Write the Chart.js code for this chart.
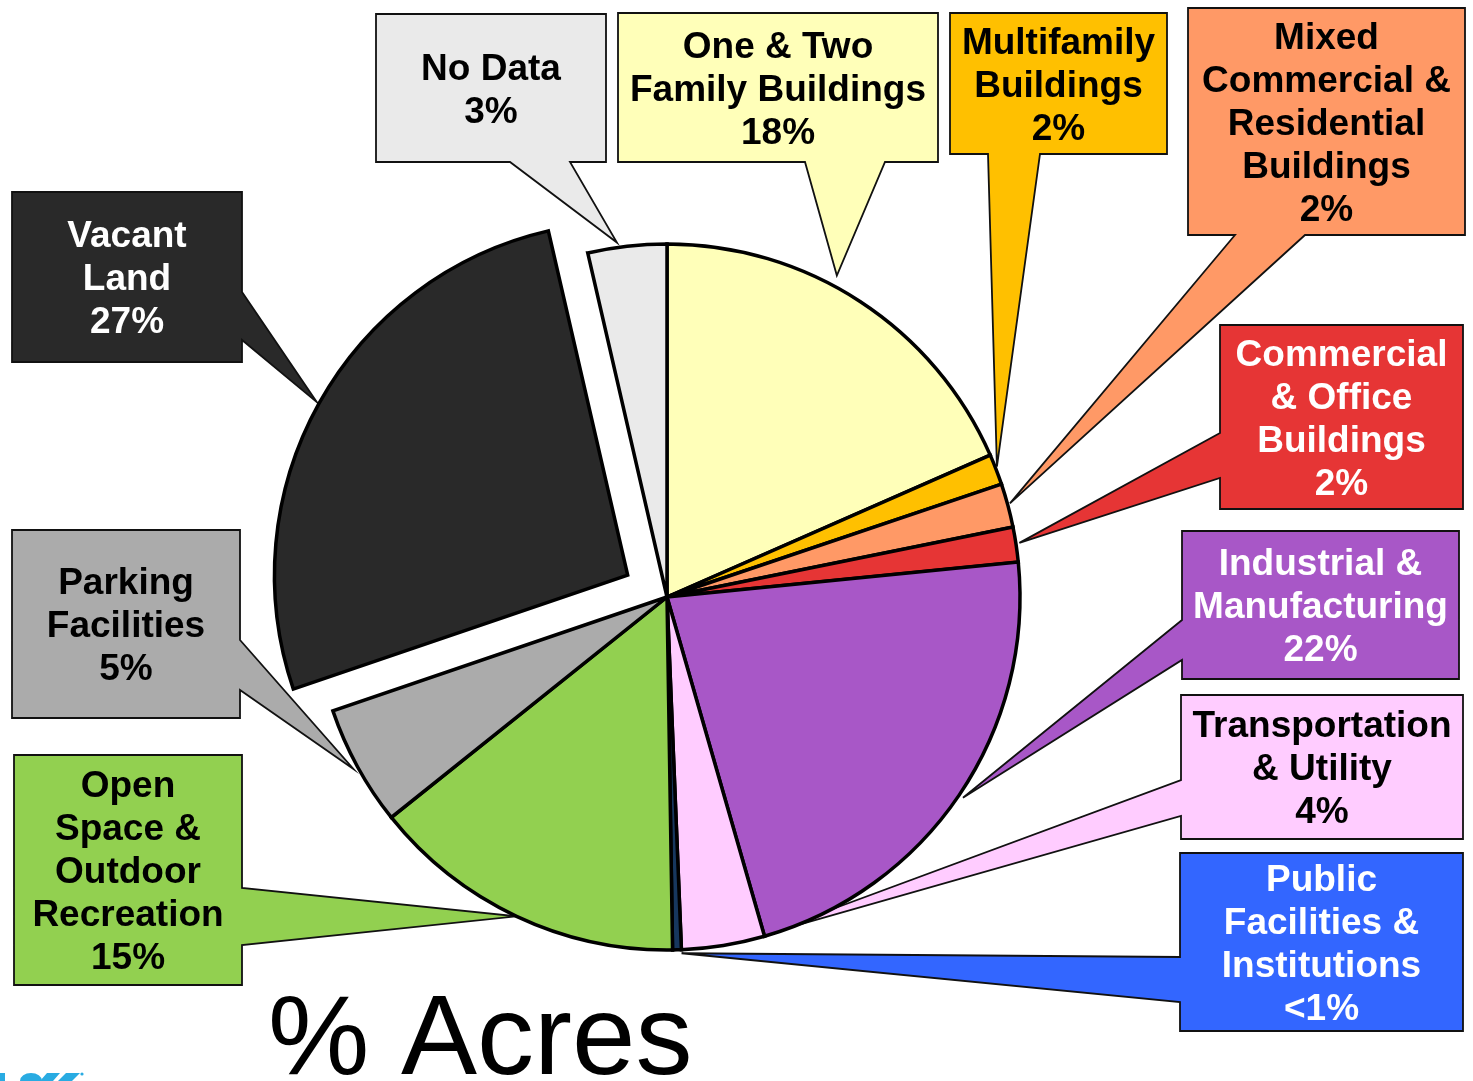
<!DOCTYPE html>
<html>
<head>
<meta charset="utf-8">
<title>% Acres</title>
<script src="https://cdn.jsdelivr.net/npm/chart.js@4/dist/chart.umd.min.js"></script>
<style>
    html, body { margin: 0; padding: 0; background: #fff; }
    #acres-pie { display: block; }
</style>
</head>
<body>
<canvas id="acres-pie" width="1473" height="1081"></canvas>
<script>
// ─── Data ─────────────────────────────────────────────

const CATEGORIES = [
    'One & Two Family Buildings',
    'Multifamily Buildings',
    'Mixed Commercial & Residential Buildings',
    'Commercial & Office Buildings',
    'Industrial & Manufacturing',
    'Transportation & Utility',
    'Public Facilities & Institutions',
    'Open Space & Outdoor Recreation',
    'Parking Facilities',
    'Vacant Land',
    'No Data',
];

// share of acres, %
const ACRES_PCT = [18.4, 1.4, 2.0, 1.6, 22.1, 3.8, 0.4, 14.5, 5.5, 26.6, 3.6];

// text shown in the callouts
const PCT_LABELS = ['18%', '2%', '2%', '2%', '22%', '4%', '<1%', '15%', '5%', '27%', '3%'];

const LABEL_LINES = [
    ['One & Two', 'Family Buildings'],
    ['Multifamily', 'Buildings'],
    ['Mixed', 'Commercial &', 'Residential', 'Buildings'],
    ['Commercial', '& Office', 'Buildings'],
    ['Industrial &', 'Manufacturing'],
    ['Transportation', '& Utility'],
    ['Public', 'Facilities &', 'Institutions'],
    ['Open', 'Space &', 'Outdoor', 'Recreation'],
    ['Parking', 'Facilities'],
    ['Vacant', 'Land'],
    ['No Data'],
];

const TITLE = '% Acres';

// ─── Styles ───────────────────────────────────────────

const SLICE_COLORS = [
    '#FFFFB9', '#FFC000', '#FF9966', '#E63535', '#A857C7', '#FFCCFF',
    '#17375E', '#92D050', '#ABABAB', '#292929', '#EAEAEA',
];
const BOX_COLORS = [
    '#FFFFB9', '#FFC000', '#FF9966', '#E63535', '#A857C7', '#FFCCFF',
    '#3366FF', '#92D050', '#ABABAB', '#292929', '#EAEAEA',
];
const TEXT_COLORS = [
    '#000', '#000', '#000', '#fff', '#fff', '#000',
    '#fff', '#000', '#000', '#fff', '#000',
];

// exploded slice (Vacant Land); Chart.js moves an arc by offset / 4
const SLICE_OFFSETS = [0, 0, 0, 0, 0, 0, 0, 0, 0, 180, 0];

// callout boxes: rect, which side the pointer leaves from, pointer base,
// and where along the slice (0..1) / how far out (x radius) the tip lands
const CALLOUTS = [
    { x: 618,  y: 13,  w: 320, h: 149, side: 'bottom', a: 805,  b: 885,  at: 0.42, rf: 1.03 },
    { x: 950,  y: 13,  w: 217, h: 141, side: 'bottom', a: 988,  b: 1040, at: 0.42, rf: 1.005 },
    { x: 1188, y: 8,   w: 277, h: 227, side: 'bottom', a: 1235, b: 1305, at: 0.47, rf: 1.007 },
    { x: 1220, y: 325, w: 243, h: 184, side: 'left',   a: 433,  b: 478,  at: 0.47, rf: 1.01 },
    { x: 1182, y: 531, w: 277, h: 148, side: 'left',   a: 620,  b: 660,  at: 0.5,  rf: 1.013 },
    { x: 1181, y: 695, w: 282, h: 144, side: 'left',   a: 780,  b: 816,  at: 0.02, rf: 0.995 },
    { x: 1180, y: 853, w: 283, h: 178, side: 'left',   a: 957,  b: 1002, at: 0.0,  rf: 1.01 },
    { x: 14,   y: 755, w: 228, h: 230, side: 'right',  a: 888,  b: 945,  at: 0.5,  rf: 1.0 },
    { x: 12,   y: 530, w: 228, h: 188, side: 'right',  a: 640,  b: 690,  at: 0.5,  rf: 1.013 },
    { x: 12,   y: 192, w: 230, h: 170, side: 'right',  a: 292,  b: 340,  at: 0.5,  rf: 1.008 },
    { x: 376,  y: 14,  w: 230, h: 148, side: 'bottom', a: 510,  b: 570,  at: 0.38, rf: 1.014 },
];

const FONT_FAMILY = '"Liberation Sans", Arial, Helvetica, sans-serif';
const LABEL_FONT  = `bold 37px ${FONT_FAMILY}`;
const LINE_HEIGHT = 43;

// ─── Helpers ──────────────────────────────────────────

function _calloutPath(ctx, box, tip) {
    const l = box.x, t = box.y, r = box.x + box.w, btm = box.y + box.h;
    ctx.beginPath();
    ctx.moveTo(l, t);
    ctx.lineTo(r, t);
    if (box.side === 'right') {
        ctx.lineTo(r, box.a);
        ctx.lineTo(tip.x, tip.y);
        ctx.lineTo(r, box.b);
    }
    ctx.lineTo(r, btm);
    if (box.side === 'bottom') {
        ctx.lineTo(box.b, btm);
        ctx.lineTo(tip.x, tip.y);
        ctx.lineTo(box.a, btm);
    }
    ctx.lineTo(l, btm);
    if (box.side === 'left') {
        ctx.lineTo(l, box.b);
        ctx.lineTo(tip.x, tip.y);
        ctx.lineTo(l, box.a);
    }
    ctx.closePath();
}

function _tipFor(arc, box) {
    const p = arc.getProps(['x', 'y', 'startAngle', 'endAngle', 'outerRadius'], true);
    const mid = (p.startAngle + p.endAngle) / 2;
    const shift = (arc.options.offset || 0) / 4;
    const ang = p.startAngle + (p.endAngle - p.startAngle) * box.at;
    const rr = p.outerRadius * box.rf;
    return {
        x: p.x + Math.cos(mid) * shift + Math.cos(ang) * rr,
        y: p.y + Math.sin(mid) * shift + Math.sin(ang) * rr,
    };
}

// ─── Plugins ──────────────────────────────────────────

const calloutPlugin = {
    id: 'callouts',
    beforeDatasetsDraw(chart) {
        const ctx = chart.ctx;
        const arcs = chart.getDatasetMeta(0).data;
        CALLOUTS.forEach((box, i) => {
            const tip = _tipFor(arcs[i], box);
            ctx.save();
            _calloutPath(ctx, box, tip);
            ctx.fillStyle = BOX_COLORS[i];
            ctx.fill();
            ctx.lineWidth = 1.8;
            ctx.lineJoin = 'miter';
            ctx.strokeStyle = '#111';
            ctx.stroke();

            const lines = [...LABEL_LINES[i], PCT_LABELS[i]];
            const cx = box.x + box.w / 2;
            const cy = box.y + box.h / 2;
            const top = cy - (lines.length - 1) * LINE_HEIGHT / 2;
            ctx.font = LABEL_FONT;
            ctx.fillStyle = TEXT_COLORS[i];
            ctx.textAlign = 'center';
            ctx.textBaseline = 'middle';
            lines.forEach((txt, k) => ctx.fillText(txt, cx, top + k * LINE_HEIGHT + 3));
            ctx.restore();
        });
    },
    afterDraw(chart) {
        const ctx = chart.ctx;
        ctx.save();
        ctx.font = `114px ${FONT_FAMILY}`;
        ctx.fillStyle = '#000';
        ctx.textAlign = 'left';
        ctx.textBaseline = 'alphabetic';
        ctx.fillText(TITLE, 268, 1074);

        // clipped logo peeking in at the bottom-left corner
        ctx.fillStyle = '#29ABE2';
        ctx.fillRect(0, 1073, 5, 8);
        ctx.beginPath();
        ctx.ellipse(31, 1081, 11, 8, 0, Math.PI, 0);
        ctx.fill();
        ctx.beginPath();
        ctx.moveTo(40, 1081); ctx.lineTo(47, 1073); ctx.lineTo(60, 1073); ctx.lineTo(53, 1081);
        ctx.moveTo(58, 1081); ctx.lineTo(66, 1073); ctx.lineTo(80, 1073); ctx.lineTo(72, 1081);
        ctx.fill();
        ctx.beginPath();
        ctx.arc(82, 1074, 1.6, 0, Math.PI * 2);
        ctx.fill();
        ctx.restore();
    },
};

// ─── Chart ────────────────────────────────────────────

const canvas = document.getElementById('acres-pie');

new Chart(canvas.getContext('2d'), {
    type: 'pie',
    data: {
        labels: CATEGORIES,
        datasets: [{
            data: ACRES_PCT,
            backgroundColor: SLICE_COLORS,
            borderColor: '#000',
            borderWidth: 3.5,
            borderJoinStyle: 'miter',
            offset: SLICE_OFFSETS,
            radius: 353,
        }],
    },
    options: {
        responsive: false,
        devicePixelRatio: 1,
        animation: false,
        events: [],
        layout: { padding: { left: 0, right: 139, top: 113, bottom: 0 } },
        plugins: {
            legend: { display: false },
            tooltip: { enabled: false },
            title: { display: false },
        },
    },
    plugins: [calloutPlugin],
});
</script>
</body>
</html>
